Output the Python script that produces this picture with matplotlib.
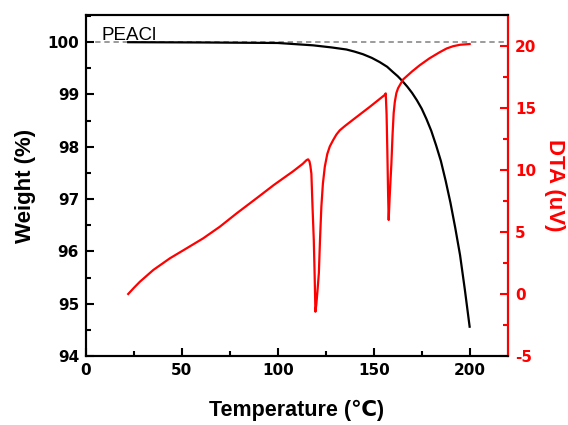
import matplotlib
matplotlib.use("Agg")
import matplotlib.pyplot as plt
from matplotlib.ticker import MultipleLocator

plt.rcParams['font.family'] = ['Liberation Sans', 'DejaVu Sans']

# Weight (TGA) curve
tga_T = [22, 60, 100, 118.4, 128, 135.8, 140, 144.4, 149, 153.1, 157, 160, 162.5, 165,
         167.5, 170, 172.5, 175, 177.5, 180, 182.5, 185, 187.5, 190, 192.5, 195, 197.5, 200]
tga_W = [100.0, 99.995, 99.985, 99.94, 99.9, 99.86, 99.82, 99.77, 99.7, 99.62, 99.53, 99.43,
         99.35, 99.255, 99.15, 99.03, 98.89, 98.73, 98.53, 98.305, 98.03, 97.73, 97.35, 96.93,
         96.45, 95.93, 95.27, 94.56]

# DTA curve
dta_T = [22, 25, 28.1, 35.1, 43.75, 52.4, 61.1, 69.8, 78.5, 88.9, 98, 108, 113, 115, 115.8,
         116.5, 117.0, 117.5, 118.1, 118.75, 119.2, 119.6, 120.1, 120.7, 121.4, 122.0, 122.7,
         123.5, 124.5, 125.8, 127.1, 128.8, 130.5, 132.3, 135, 140, 148, 155.7, 156.25, 156.7,
         157.1, 157.5, 157.8, 158.3, 158.8, 159.2, 159.8, 160.4, 161.0, 161.8, 162.7, 165.3,
         170, 174, 179, 184.4, 188, 191.3, 195, 200]
dta_V = [0.0, 0.5, 0.99, 1.94, 2.88, 3.68, 4.49, 5.43, 6.5, 7.72, 8.8, 9.9, 10.5, 10.8, 10.86,
         10.7, 10.3, 9.7, 7.0, 4.35, 1.5, -1.43, -0.8, 0.3, 1.7, 4.4, 7.04,
         8.9, 10.27, 11.3, 11.9, 12.4, 12.85, 13.2, 13.55, 14.15, 15.1, 16.05, 16.18, 14.5,
         11.5, 8.0, 5.97, 7.8, 9.3, 10.5, 12.8, 14.6, 15.5, 16.2, 16.6, 17.3,
         17.95, 18.45, 19.0, 19.5, 19.8, 19.98, 20.1, 20.16]

x_ticks = [0, 50, 100, 150, 200]
w_ticks = [94, 95, 96, 97, 98, 99, 100]
d_ticks = [-5, 0, 5, 10, 15, 20]

fig = plt.figure(figsize=(5.68, 4.25), dpi=100)
ax = fig.add_axes([86/568, 1-356/425, (508-86)/568, (356-15)/425])
ax2 = ax.twinx()

ax.axhline(100, color='#808080', lw=1.1, ls=(0, (3.5, 2.5)), zorder=1)
ax.plot(tga_T, tga_W, color='black', lw=1.6, zorder=3)
ax2.plot(dta_T, dta_V, color='red', lw=1.6)

ax.set_xlim(0, 220)
ax.set_ylim(94, 100.52)
ax2.set_ylim(-5, 22.5)

ax.set_xticks(x_ticks)
ax.set_yticks(w_ticks)
ax2.set_yticks(d_ticks)
ax.xaxis.set_minor_locator(MultipleLocator(25))
ax.yaxis.set_minor_locator(MultipleLocator(0.5))
ax2.yaxis.set_minor_locator(MultipleLocator(2.5))

for a in (ax, ax2):
    for s in a.spines.values():
        s.set_linewidth(1.5)
ax2.spines['right'].set_color('red')

tickfont = dict(family='DejaVu Sans', weight='bold', size=11)
ax.tick_params(axis='both', which='major', direction='in', length=6, width=1.5, pad=5)
ax.tick_params(axis='both', which='minor', direction='in', length=3.5, width=1.5)
ax.tick_params(axis='y', right=False, which='both')
ax.tick_params(axis='x', top=False, which='both')
ax2.tick_params(axis='y', which='major', direction='in', length=6, width=1.5,
                colors='red', pad=5)
ax2.tick_params(axis='y', which='minor', direction='in', length=3.5, width=1.5, colors='red')

ax.set_xticklabels([str(v) for v in x_ticks], fontdict=tickfont)
ax.set_yticklabels([str(v) for v in w_ticks], fontdict=tickfont)
ax2.set_yticklabels([str(v) for v in d_ticks], fontdict=tickfont, color='red')

fig.text(297/568, 1-410/425, 'Temperature (℃)', fontsize=15.5, fontweight='bold',
         ha='center', va='center')
fig.text(25/568, 1-185.5/425, 'Weight (%)', fontsize=16, fontweight='bold',
         ha='center', va='center', rotation=90)
fig.text(554/568, 1-185.5/425, 'DTA (uV)', fontsize=16, fontweight='bold', color='red',
         ha='center', va='center', rotation=270)

ax.text(8.2, 100.035, 'PEACl', fontsize=13.5, color='black', va='baseline', ha='left',
        zorder=4)

fig.savefig('out.png', dpi=100)
